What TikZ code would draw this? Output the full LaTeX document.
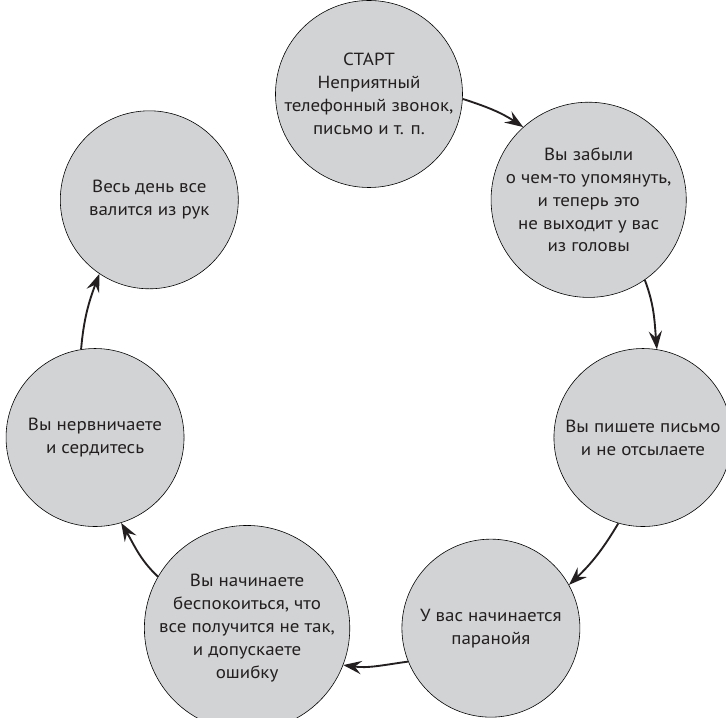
\documentclass[tikz,border=0pt]{standalone}
\usepackage{fontspec}
\setmainfont{PT Sans}[FakeStretch=1.08]
\usetikzlibrary{arrows.meta}

\definecolor{discfill}{RGB}{209,211,212}
\definecolor{inkgray}{RGB}{35,31,32}

\begin{document}
\begin{tikzpicture}[
    align=center,
    font=\fontsize{15}{19.6}\selectfont,
    stage/.style={circle, minimum size=53.4mm, inner sep=0pt,
      fill=discfill, draw=black, line width=0.5pt, text=inkgray},
    cycle/.style={inkgray, line width=1.6pt,
      -{Stealth[length=5.5mm, width=4mm, inset=2mm]}}
  ]

  \useasboundingbox (-11.07,-10.29) rectangle (10.71,11.25);

  % layout the stages round the ring, clockwise from the top

  \node (start)    [stage] at (90:8.43)       {СТАРТ\\
                                                 Неприятный\\
                                                 телефонный звонок,\\
                                                 письмо и т. п.};
  \node (forgot)   [stage] at (38.571:8.43)   {Вы забыли\\
                                                 о чем-то упомянуть,\\
                                                 и теперь это\\
                                                 не выходит у вас\\
                                                 из головы};
  \node (letter)   [stage] at (-12.857:8.43)  {Вы пишете письмо\\
                                                 и не отсылаете};
  \node (paranoia) [stage] at (-64.286:8.43)  {У вас начинается\\
                                                 паранойя};
  \node (worry)    [stage] at (-115.714:8.43) {Вы начинаете\\
                                                 беспокоиться, что\\
                                                 все получится не так,\\
                                                 и допускаете\\
                                                 ошибку};
  \node (nervous)  [stage] at (-167.143:8.43) {Вы нервничаете\\
                                                 и сердитесь};
  \node (allday)   [stage] at (141.429:8.43)  {Весь день все\\
                                                 валится из рук};

  % arrows between neighbours, just outside the ring

  \draw[cycle] (start.-3.9)      to [out=-17.9,  in=146.5]  (forgot.132.5);
  \draw[cycle] (forgot.-55.3)    to [out=-69.3,  in=95.0]   (letter.81.0);
  \draw[cycle] (letter.-106.8)   to [out=-120.8, in=43.6]   (paranoia.29.6);
  \draw[cycle] (paranoia.-158.2) to [out=-172.2, in=-7.8]   (worry.-21.8);
  \draw[cycle] (worry.150.4)     to [out=136.4,  in=-59.2]  (nervous.-73.2);
  \draw[cycle] (nervous.99.0)    to [out=85.0,   in=-110.7] (allday.-124.7);

\end{tikzpicture}
\end{document}
